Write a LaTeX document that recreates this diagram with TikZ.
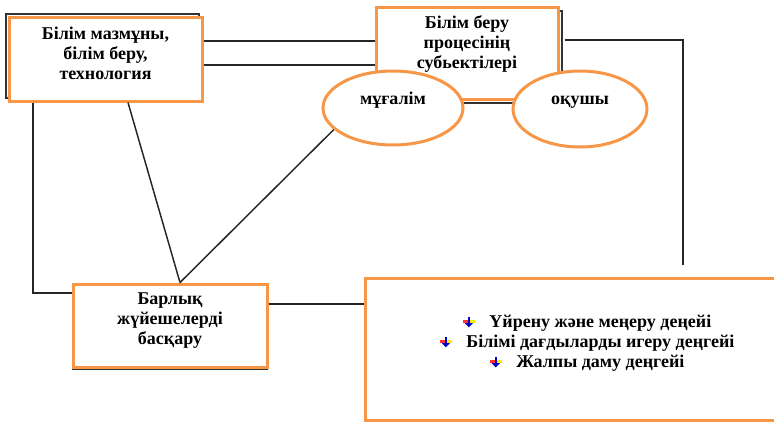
\documentclass[tikz,border=0pt]{standalone}
\usepackage{fontspec}
\setmainfont{Liberation Serif}
\newfontfamily\diagfont{Liberation Serif}
\usetikzlibrary{shapes.geometric}

\definecolor{boxorange}{HTML}{F79646}

% small coloured bullet of the level list
\newcommand{\lvlmark}{\tikz[baseline=0pt,x=1.3pt,y=1.3pt]{%
  \fill[red!80] (0,2.4) rectangle (3.5,4.2);
  \fill[yellow!90!orange] (3.5,2.4) rectangle (7,4.4);
  \fill[blue!80!black] (3,6) rectangle (4.2,2);
  \fill[blue!80!black] (1.2,2.4) -- (6,2.4) -- (3.6,0) -- cycle;}}

\begin{document}
\begin{tikzpicture}[x=0.75pt,y=-0.75pt,
	obox/.style={draw=boxorange,line width=2.25pt,fill=white,inner sep=0pt},
	oval/.style={ellipse,draw=boxorange,line width=2.25pt,fill=white,inner sep=0pt},
	scan/.style={preaction={draw=black!80,line width=0.8pt,transform canvas={shift={#1}}}},
	boxtext/.style={align=center,inner sep=0pt,font=\diagfont\bfseries\fontsize{13.5}{15}\selectfont},
	link/.style={draw=black!85,line width=1.1pt}]
		
		\useasboundingbox (0,0) rectangle (774,422);
		
		% Boxes
		\node[obox,scan={(-2.25pt,2.25pt)},minimum width=144.75pt,minimum height=63pt] (b1) at (105.5,59) {};
		\node[boxtext] (b1t) at ([yshift=4.5pt]b1.center) {Білім мазмұны,\\білім беру,\\технология};
		
		\node[obox,scan={(3pt,-3pt)},minimum width=136.5pt,minimum height=69pt] (b2) at (467,53) {};
		\node[boxtext] (b2t) at ([yshift=6.75pt]b2.center) {Білім беру\\процесінің\\субьектілері};
		
		\node[obox,scan={(0pt,-1.5pt)},minimum width=145.5pt,minimum height=62.25pt] (b3) at (170,325.5) {};
		\node[boxtext] (b3t) at ([yshift=3.75pt]b3.center) {Барлық\\жүйешелерді\\басқару};
		
		\node[obox,minimum width=308.25pt,minimum height=106.5pt] (b4) at (570.5,349) {};
		\node[boxtext] (lvls) at (587,343) {\lvlmark\hspace{11pt}Үйрену және меңеру деңейі\\
			\lvlmark\hspace{11pt}Білімі дағдыларды игеру деңгейі\\
			\lvlmark\hspace{11pt}Жалпы даму деңгейі};
		
		% Ellipses over the lower edge of b2
		\node[oval,minimum width=105pt,minimum height=55.5pt] (e1) at (393,108) {};
		\node[boxtext] (e1t) at ([yshift=6pt]e1.center) {мұғалім};
		\node[oval,minimum width=100.5pt,minimum height=57pt] (e2) at (580,109) {};
		\node[boxtext] (e2t) at ([yshift=5.25pt]e2.center) {оқушы};
		
		% Links
		\draw[link] (b1.east |- 0,41) -- (b2.west |- 0,41);
		\draw[link] (b1.east |- 0,65) -- (b2.west |- 0,65);
		\coordinate (rend) at (683,265);
		\draw[link] ([xshift=3.75pt]b2.east |- 0,40) -| (rend);
		\draw[link] (b1.south -| 33,0) |- (b3.west |- 0,293);
		\draw[link] (b1.south -| 128,0) -- (b3.north -| 180,0);
		\draw[link] (e1.200) -- (b3.north -| 180,0);
		\draw[link] (b3.east |- 0,304) -- (b4.west |- 0,304);
		
	\end{tikzpicture}
\end{document}
